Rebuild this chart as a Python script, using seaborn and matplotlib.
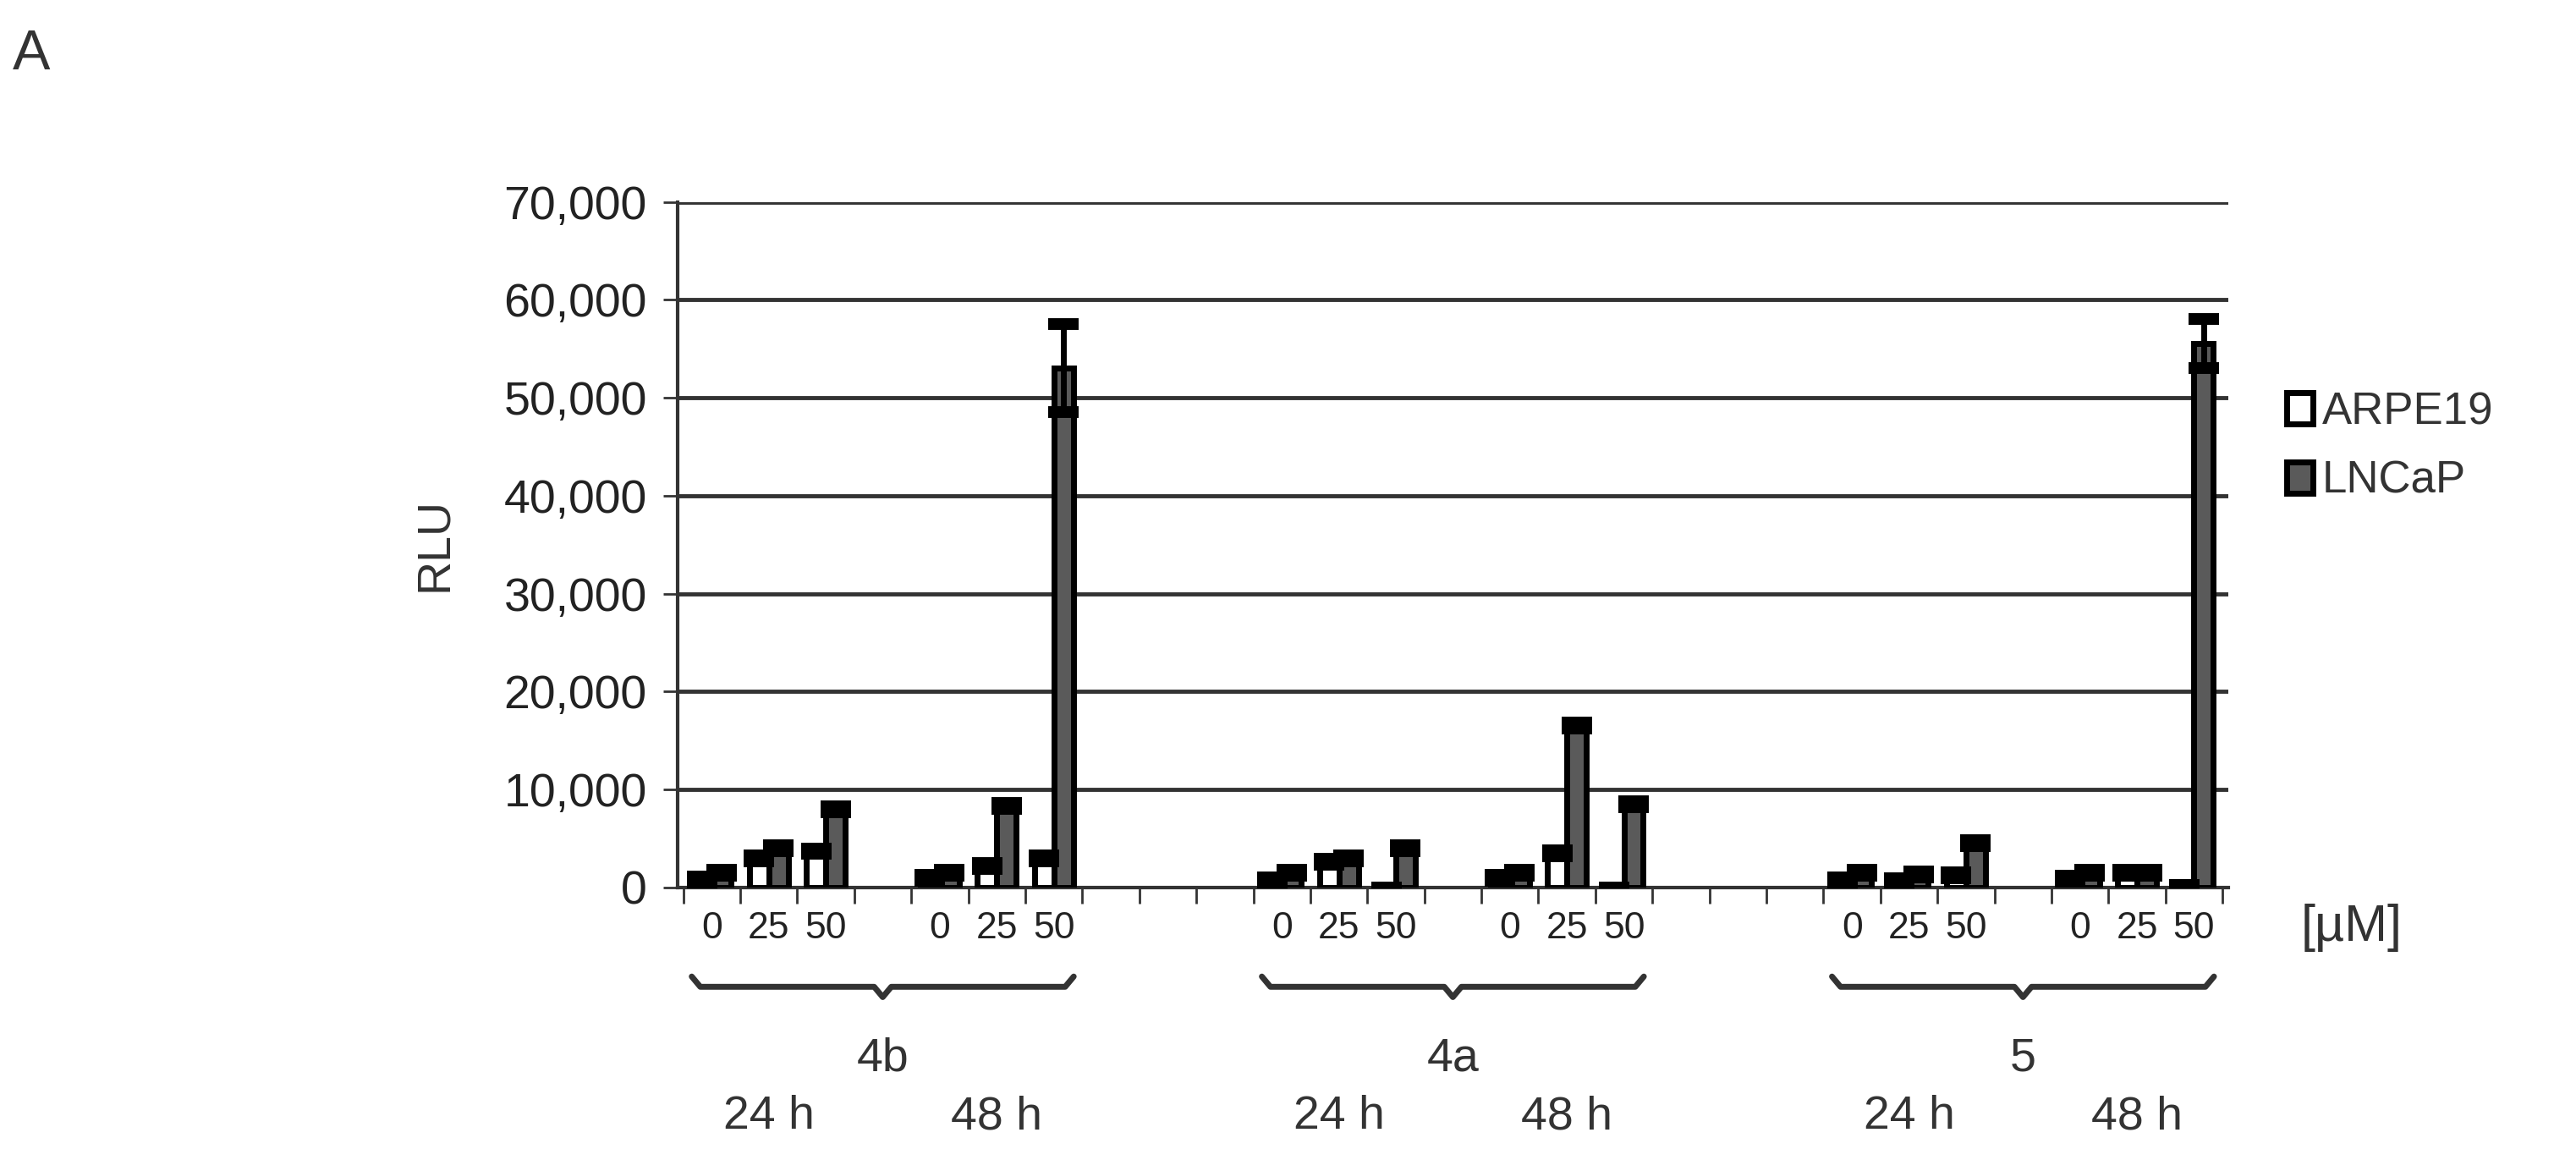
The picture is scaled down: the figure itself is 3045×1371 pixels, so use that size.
import matplotlib
matplotlib.use("Agg")
import matplotlib.pyplot as plt
import seaborn as sns
import pandas as pd
import numpy as np

sns.set_theme(style="white")
plt.rcParams['font.family'] = ['Liberation Sans', 'DejaVu Sans']

# slot layout: 'g*' = empty slot
slots = ["4b24_0","4b24_25","4b24_50","g1","4b48_0","4b48_25","4b48_50","g2","g3","g4",
         "4a24_0","4a24_25","4a24_50","g5","4a48_0","4a48_25","4a48_50","g6","g7","g8",
         "5_24_0","5_24_25","5_24_50","g9","5_48_0","5_48_25","5_48_50"]
tick_labels = ["0","25","50","","0","25","50","","","",
               "0","25","50","","0","25","50","","","",
               "0","25","50","","0","25","50"]
data_slots = [s for s in slots if not s.startswith("g")]
arpe19 = [800, 3000, 3700, 1000, 2200, 3000, 700, 2600, 0, 1000, 3500, 0, 700, 600, 1200, 900, 1500, 200]
lncap = [1500, 4000, 8000, 1500, 8300, 53000, 1500, 3000, 4000, 1500, 16500, 8500, 1500, 1300, 4500, 1500, 1500, 55500]
arpe19_err = [300, 300, 300, 300, 300, 300, 300, 300, 0, 300, 300, 0, 300, 300, 300, 300, 300, 0]
lncap_err = [300, 300, 300, 300, 300, 4500, 300, 300, 300, 300, 300, 300, 300, 300, 300, 300, 300, 2500]
groups = ["4b", "4a", "5"]

rows = []
for s, a, l in zip(data_slots, arpe19, lncap):
    rows.append(dict(slot=s, cell="ARPE19", RLU=a))
    rows.append(dict(slot=s, cell="LNCaP", RLU=l))
df = pd.DataFrame(rows)

W = 0.68
fig = plt.figure(figsize=(30.45, 13.71), dpi=100)
ax = fig.add_axes([0.263, 0.235, 0.602, 0.591])
sns.barplot(data=df, x="slot", y="RLU", hue="cell", order=slots, hue_order=["ARPE19", "LNCaP"],
            palette={"ARPE19": "white", "LNCaP": "#5a5a5a"}, width=W, edgecolor="black",
            linewidth=5, errorbar=None, ax=ax, legend=False, zorder=3)

pos = {s: i for i, s in enumerate(slots)}
off = W / 4
for vals, errs, sh in [(arpe19, arpe19_err, -off), (lncap, lncap_err, off)]:
    xs = [pos[s] + sh for s in data_slots]
    ax.errorbar(xs, vals, yerr=errs, fmt="none", ecolor="black",
                elinewidth=5, capsize=13, capthick=10, zorder=4)

ax.set_ylim(0, 70000)
ax.set_xlim(-0.6, len(slots) - 0.4)
ax.set_yticks(range(0, 70001, 10000))
ax.set_yticklabels([f"{v:,}" for v in range(0, 70001, 10000)], fontsize=40, color="#222")
ax.set_xticks(range(len(slots)))
ax.set_xticklabels(tick_labels, fontsize=32, color="#222")
ax.tick_params(axis="x", length=0, pad=20)
ax.set_xticks(np.arange(-0.5, len(slots), 1), minor=True)
ax.tick_params(axis="x", which="minor", length=14, width=2, color="#333", direction="out", bottom=True)
ax.tick_params(axis="y", length=12, width=2, color="#333", left=True, pad=14)
ax.yaxis.grid(True, color="#333", linewidth=3.5, zorder=0)
ax.set_axisbelow(True)
for sp in ["top", "right"]:
    ax.spines[sp].set_visible(False)
for sp in ["left", "bottom"]:
    ax.spines[sp].set_color("#333")
    ax.spines[sp].set_linewidth(3)
ax.set_xlabel("")
ax.set_ylabel("RLU", fontsize=40, color="#333", labelpad=40)

trans = ax.get_xaxis_transform()
starts = [0, 10, 20]
for g, st in zip(groups, starts):
    x0, x1 = st - 0.35, st + 6.35
    xm = (x0 + x1) / 2
    ax.plot([x0, x0 + 0.15, xm - 0.15, xm, xm + 0.15, x1 - 0.15, x1],
            [-0.13, -0.145, -0.145, -0.16, -0.145, -0.145, -0.13],
            transform=trans, clip_on=False, color="#333", lw=5, solid_capstyle="round")
    ax.text(xm, -0.25, g, transform=trans, ha="center", va="center", fontsize=40, color="#333")
    ax.text(st + 1, -0.335, "24 h", transform=trans, ha="center", va="center", fontsize=40, color="#333")
    ax.text(st + 5, -0.335, "48 h", transform=trans, ha="center", va="center", fontsize=40, color="#333")

fig.text(0.893, 0.2, "[µM]", fontsize=44, color="#333", ha="left", va="center")
fig.text(0.005, 0.975, "A", fontsize=48, color="#333", ha="left", va="top")

from matplotlib.patches import Patch
handles = [Patch(facecolor="white", edgecolor="black", linewidth=5, label="ARPE19"),
           Patch(facecolor="#5a5a5a", edgecolor="black", linewidth=5, label="LNCaP")]
fig.legend(handles=handles, loc="center left", bbox_to_anchor=(0.872, 0.615), frameon=False,
           fontsize=38, handlelength=0.6, handleheight=0.7, handletextpad=0.2, labelspacing=0.6,
           labelcolor="#333")

fig.savefig("out.png", dpi=100)
